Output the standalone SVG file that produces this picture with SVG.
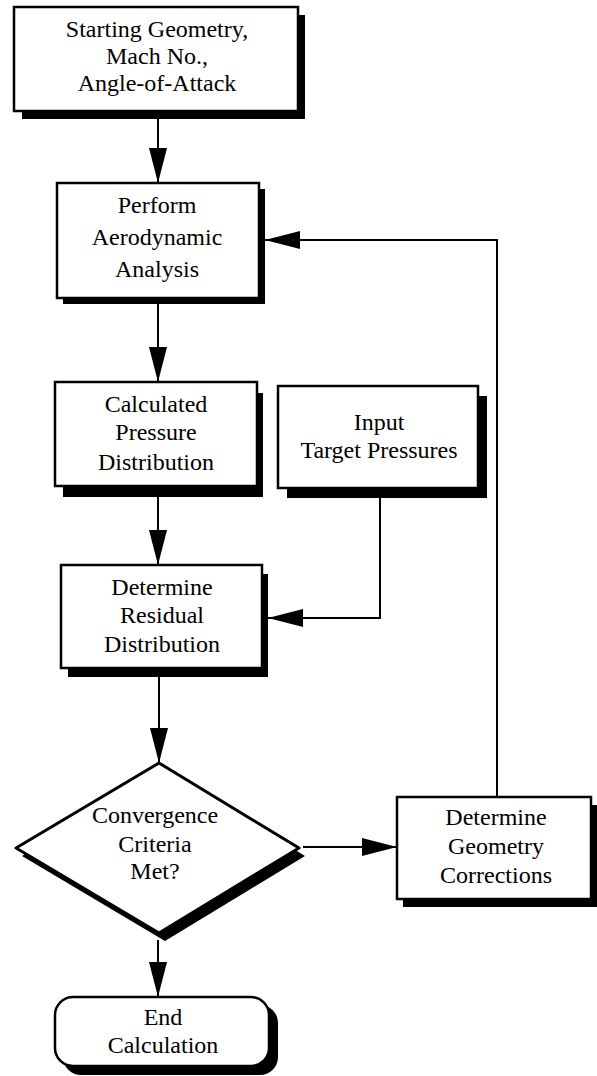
<svg xmlns="http://www.w3.org/2000/svg" width="597" height="1076" viewBox="0 0 597 1076">
<defs>
<style>
.box{fill:#fff;stroke:#000;stroke-width:2.5}
.sh{fill:#000}
.t{font-family:"Liberation Serif","Times New Roman",serif;font-size:24px;fill:#000;text-anchor:middle}
.c{fill:none;stroke:#000;stroke-width:2}
</style>
<marker id="ah" viewBox="0 0 35 18" refX="35" refY="9" markerWidth="35" markerHeight="18" markerUnits="userSpaceOnUse" orient="auto">
<path d="M0,0 L35,9 L0,18 z" fill="#000"/>
</marker>
</defs>
<rect width="597" height="1076" fill="#fff"/>
<g id="connectors">
<path class="c" d="M158,119 L158,183" marker-end="url(#ah)"/>
<path class="c" d="M158,304 L158,382" marker-end="url(#ah)"/>
<path class="c" d="M158,497 L158,565" marker-end="url(#ah)"/>
<path class="c" d="M380,498 L380,618 L268,618" marker-end="url(#ah)"/>
<path class="c" d="M159,677 L159,763" marker-end="url(#ah)"/>
<path class="c" d="M303,847 L397,847" marker-end="url(#ah)"/>
<path class="c" d="M497,797 L497,240 L265,240" marker-end="url(#ah)"/>
<path class="c" d="M158,940 L158,997" marker-end="url(#ah)"/>
</g>
<g id="start">
<rect class="sh" x="22" y="15" width="283" height="104"/>
<rect class="box" x="14" y="7" width="284" height="104"/>
<text class="t" x="157" y="37">Starting Geometry,</text>
<text class="t" x="157" y="64">Mach No.,</text>
<text class="t" x="157" y="91">Angle-of-Attack</text>
</g>
<g id="perform">
<rect class="sh" x="63" y="189" width="202" height="115"/>
<rect class="box" x="57" y="183" width="202" height="115"/>
<text class="t" x="157" y="213">Perform</text>
<text class="t" x="157" y="245">Aerodynamic</text>
<text class="t" x="157" y="277">Analysis</text>
</g>
<g id="calculated">
<rect class="sh" x="63" y="393" width="200" height="104"/>
<rect class="box" x="55" y="382" width="202" height="104"/>
<text class="t" x="156" y="412">Calculated</text>
<text class="t" x="156" y="440">Pressure</text>
<text class="t" x="156" y="470">Distribution</text>
</g>
<g id="input">
<rect class="sh" x="287" y="396" width="200" height="102"/>
<rect class="box" x="278" y="386" width="200" height="102"/>
<text class="t" x="379" y="430">Input</text>
<text class="t" x="379" y="458">Target Pressures</text>
</g>
<g id="residual">
<rect class="sh" x="68" y="574" width="200" height="103"/>
<rect class="box" x="61" y="565" width="201" height="103"/>
<text class="t" x="162" y="595">Determine</text>
<text class="t" x="162" y="623">Residual</text>
<text class="t" x="162" y="652">Distribution</text>
</g>
<g id="convergence">
<polygon class="sh" points="165,771 305,856 165,941 22,856"/>
<polygon points="159,763 299,848 159,933 16,848" fill="#fff" stroke="#000" stroke-width="3" stroke-linejoin="round"/>
<text class="t" x="155" y="823">Convergence</text>
<text class="t" x="155" y="852">Criteria</text>
<text class="t" x="155" y="879">Met?</text>
</g>
<g id="geometry">
<rect class="sh" x="403" y="805" width="194" height="102"/>
<rect class="box" x="397" y="797" width="194" height="102"/>
<text class="t" x="496" y="825">Determine</text>
<text class="t" x="496" y="854">Geometry</text>
<text class="t" x="496" y="883">Corrections</text>
</g>
<g id="end">
<rect class="sh" x="63" y="1005" width="215" height="70" rx="18"/>
<rect class="box" x="55" y="997" width="214" height="69" rx="18"/>
<text class="t" x="163" y="1025">End</text>
<text class="t" x="163" y="1053">Calculation</text>
</g>
</svg>
